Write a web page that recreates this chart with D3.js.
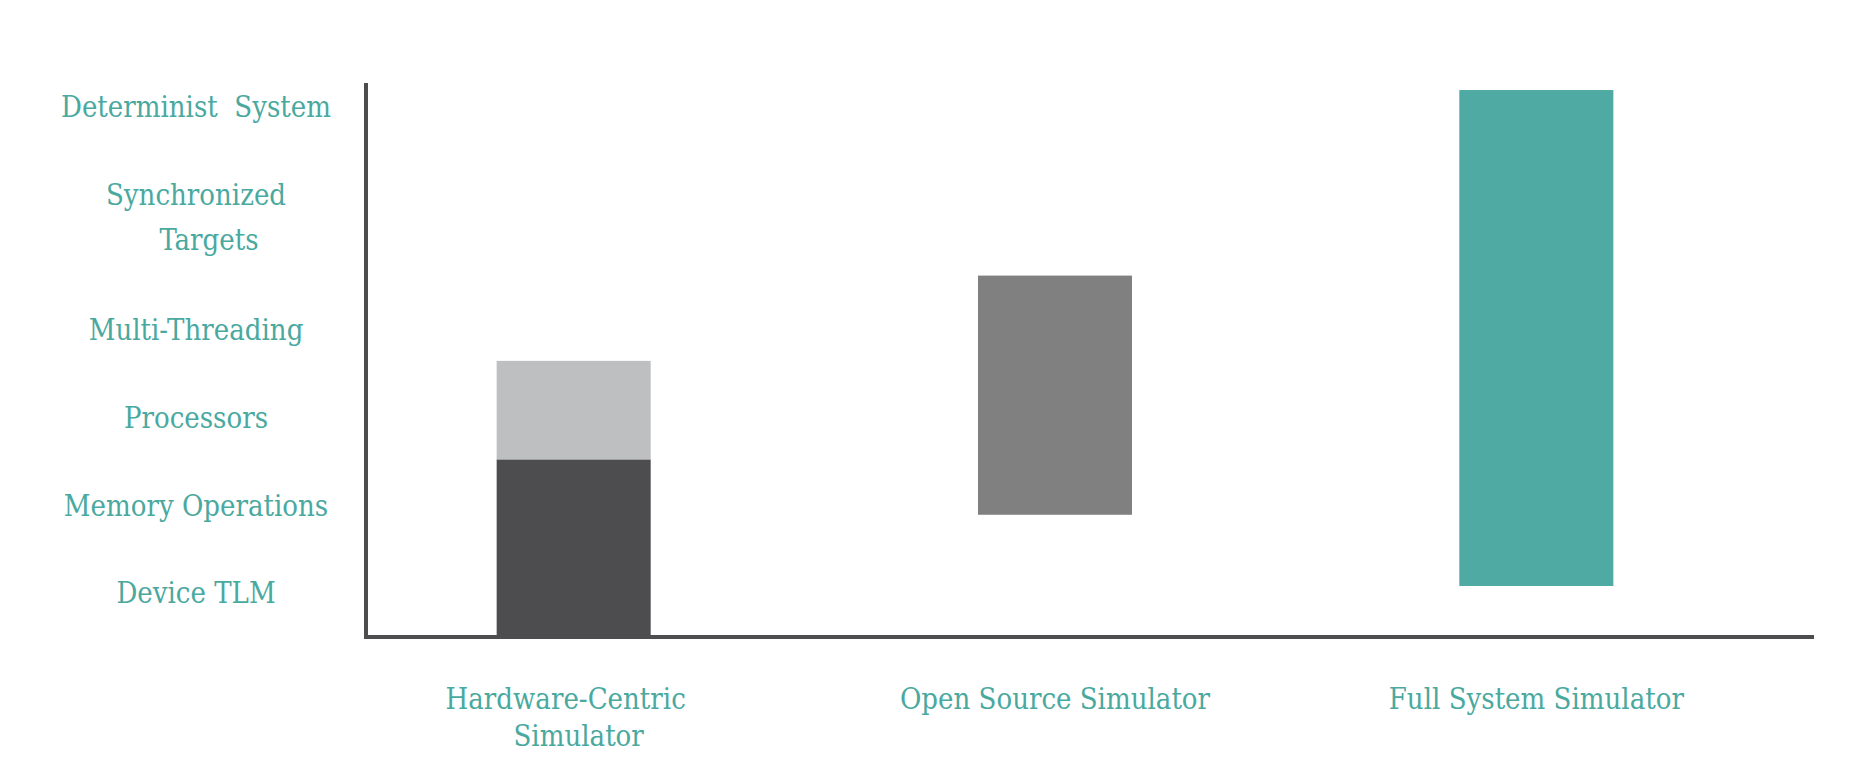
<!DOCTYPE html>
<html>
<head>
<meta charset="utf-8">
<script src="https://cdn.jsdelivr.net/npm/d3@7"></script>
<style>
  html, body { margin: 0; padding: 0; background: #ffffff; }
  svg { display: block; }
  text { font-family: "DejaVu Serif", "Liberation Serif", serif; font-stretch: condensed; fill: #4aa99f; white-space: pre; }
</style>
</head>
<body>
<svg id="chart" width="1872" height="784"></svg>
<script>
// ---- data ----
const categories = ["Hardware-Centric Simulator", "Open Source Simulator", "Full System Simulator"];
const categoryLines = [["Hardware-Centric", "Simulator"], ["Open Source Simulator"], ["Full System Simulator"]];
// level axis labels (bottom to top) and their level positions
const levelLabels = [["Device TLM"], ["Memory Operations"], ["Processors"], ["Multi-Threading"], ["Synchronized", "Targets"], ["Determinist  System"]];
const levelPositions = [0.5, 1.5, 2.5, 3.5, 4.78, 6.03];
// floating bar segments: [category index, from level, to level, series]
const segStart = [0, 2.02, 1.39, 0.58];
const segEnd   = [2.02, 3.14, 4.11, 6.22];
const segCategory = [0, 0, 1, 2];
const segSeries = ["hwBase", "hwExt", "open", "full"];
const seriesColors = { hwBase: "#4d4d4f", hwExt: "#bebfc1", open: "#808080", full: "#4eaaa2" };

// ---- layout ----
const svg = d3.select("#chart");
const axisX = 366, axisY = 637, axisTop = 83, axisRight = 1814;

const y = d3.scaleLinear().domain([0, 6.3]).range([axisY, axisTop]);
const x = d3.scaleBand().domain(categories).range([333, 1777]).paddingInner(0.68).paddingOuter(0.34);

// bars
svg.append("g").selectAll("rect")
  .data(segStart.map((s, i) => ({ s, e: segEnd[i], c: categories[segCategory[i]], k: segSeries[i] })))
  .join("rect")
  .attr("x", d => x(d.c))
  .attr("width", x.bandwidth())
  .attr("y", d => y(d.e))
  .attr("height", d => y(d.s) - y(d.e))
  .attr("fill", d => seriesColors[d.k]);

// axes lines
svg.append("line").attr("x1", axisX).attr("x2", axisX).attr("y1", y.range()[1]).attr("y2", axisY + 2)
  .attr("stroke", "#4d4d4f").attr("stroke-width", 4);
svg.append("line").attr("x1", axisX - 2).attr("x2", axisRight).attr("y1", axisY).attr("y2", axisY)
  .attr("stroke", "#4d4d4f").attr("stroke-width", 4);

// y labels
const fs = 29;
const ylab = svg.append("g");
levelLabels.forEach((lines, i) => {
  const cy = y(levelPositions[i]);
  const n = lines.length;
  const lh = 45;
  lines.forEach((t, j) => {
    ylab.append("text")
      .attr("x", 196 + (j > 0 ? 13 : 0))
      .attr("y", cy + (j - (n - 1) / 2) * lh)
      .attr("dy", "0.36em")
      .attr("text-anchor", "middle")
      .attr("font-size", fs)
      .text(t);
  });
});

// x labels
const xlab = svg.append("g");
categoryLines.forEach((lines, i) => {
  const cx = x(categories[i]) + x.bandwidth() / 2;
  lines.forEach((t, j) => {
    xlab.append("text")
      .attr("x", cx + (lines.length > 1 ? (j === 0 ? -8 : 5) : 0))
      .attr("y", 709 + j * 37)
      .attr("text-anchor", "middle")
      .attr("font-size", fs)
      .text(t);
  });
});
</script>
</body>
</html>
